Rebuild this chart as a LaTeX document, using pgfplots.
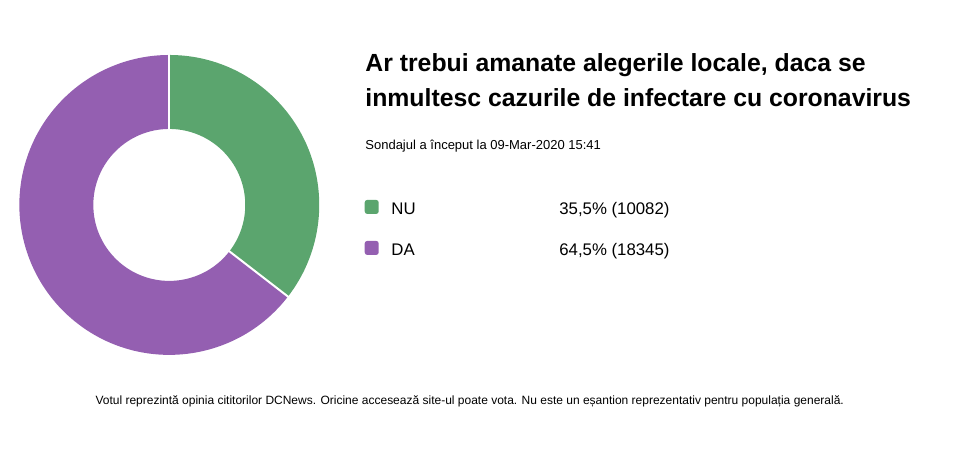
\documentclass[border=0pt]{standalone}
\usepackage{pgfplots}
\pgfplotsset{compat=1.18}
\usepackage{fontspec}
\setmainfont{Liberation Sans}
\definecolor{cgreen}{RGB}{91,165,110}
\definecolor{cpurple}{RGB}{148,95,177}
\begin{document}
\begin{tikzpicture}
\begin{axis}[x=1pt,y=1pt,xmin=0,xmax=970,ymin=0,ymax=464,hide axis,clip=false,scale only axis]
\path (axis cs:0,0) rectangle (axis cs:970,464);
\def\vNU{10082}
\def\vDA{18345}
\edef\angA{\fpeval{round(90-360*\vNU/(\vNU+\vDA),3)}}
\edef\angB{\fpeval{round(\angA-360*\vDA/(\vNU+\vDA),3)}}
\begin{scope}[shift={(axis cs:169,259)}]
\fill[cgreen] (90:150pt) arc[start angle=90,end angle=\angA,radius=150pt] -- (\angA:76pt) arc[start angle=\angA,end angle=90,radius=76pt] -- cycle;
\fill[cpurple] (\angA:150pt) arc[start angle=\angA,end angle=\angB,radius=150pt] -- (\angB:76pt) arc[start angle=\angB,end angle=\angA,radius=76pt] -- cycle;
\draw[white,line width=2pt] (90:75pt) -- (90:151pt);
\draw[white,line width=2pt] (\angA:75pt) -- (\angA:151pt);
\end{scope}
\node[anchor=base west,inner sep=0] at (axis cs:365,392.5) {\fontsize{24.8}{28}\selectfont\bfseries Ar trebui amanate alegerile locale, daca se};
\node[anchor=base west,inner sep=0] at (axis cs:365,357.5) {\fontsize{24.8}{28}\selectfont\bfseries inmultesc cazurile de infectare cu coronavirus};
\node[anchor=base west,inner sep=0] at (axis cs:365,314) {\fontsize{13}{15}\selectfont Sondajul a început la 09-Mar-2020 15:41};
\fill[cgreen,rounded corners=2.5pt] (axis cs:364.5,250) rectangle (axis cs:378.5,264);
\fill[cpurple,rounded corners=2.5pt] (axis cs:364.5,209) rectangle (axis cs:378.5,223);
\node[anchor=base west,inner sep=0] at (axis cs:391,249) {\fontsize{16.8}{19}\selectfont NU};
\node[anchor=base west,inner sep=0] at (axis cs:391,208.5) {\fontsize{16.8}{19}\selectfont DA};
\node[anchor=base west,inner sep=0] at (axis cs:559,249) {\fontsize{16.8}{19}\selectfont 35,5\% (10082)};
\node[anchor=base west,inner sep=0] at (axis cs:559,208.5) {\fontsize{16.8}{19}\selectfont 64,5\% (18345)};
\node[anchor=base west,inner sep=0] at (axis cs:95,59) {\fontsize{12}{14}\selectfont Votul reprezintă opinia cititorilor DCNews. Oricine accesează site-ul poate vota. Nu este un eșantion reprezentativ pentru populația generală.};
\end{axis}
\end{tikzpicture}
\end{document}
